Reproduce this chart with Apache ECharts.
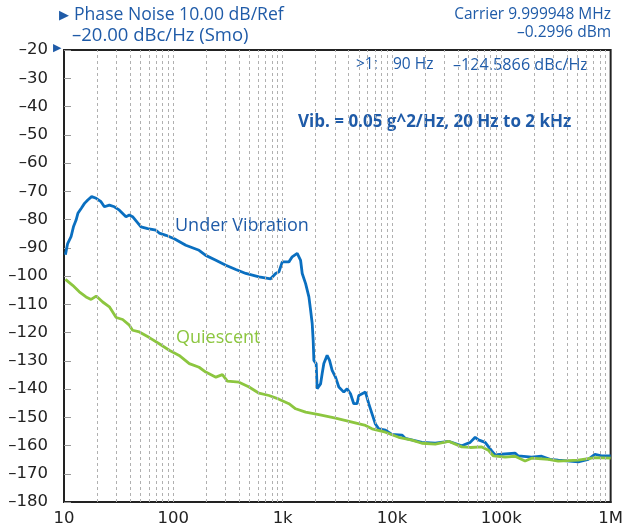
<!DOCTYPE html>
<html>
<head>
<meta charset="utf-8">
<script src="https://cdn.jsdelivr.net/npm/echarts@6/dist/echarts.min.js"></script>
<style>html,body{margin:0;padding:0;background:#fff}#c{width:626px;height:529px}</style>
</head>
<body>
<div id="c"></div>
<script>
// Under Vibration (Hz, dBc/Hz)
const vibFreq = [10.3,10.8,11.6,12.2,12.9,13.4,14.4,15.4,16.5,17.9,19.7,21.8,23.4,26.0,28.9,32.1,36.9,39.6,42.4,50.6,58.2,69.4,74.3,85.6,102,130,172,198,245,302,373,460,608,777,863,925,992,1141,1223,1359,1460,1510,1622,1738,1801,1863,1902,1930,2026,2069,2222,2297,2381,2552,2685,2836,3045,3264,3625,3886,4173,4473,4794,4970,5720,6130,6570,7055,7560,8710,10000,12340,13260,18780,24890,32910,43530,51930,57670,61810,71150,81740,87790,100800,133600,143200,189400,233700,278800,331900,505100,623300,717600,824500,1000000];
const vibDb = [-92.5,-88.5,-86.1,-82.6,-80.2,-77.8,-76.0,-74.3,-73.1,-71.9,-72.5,-73.7,-75.5,-74.9,-75.5,-76.7,-79.0,-78.4,-79.0,-82.6,-83.2,-83.8,-84.8,-85.6,-86.8,-89.1,-90.9,-92.7,-94.4,-96.2,-97.7,-99.1,-100.3,-101.0,-99.1,-98.5,-95.0,-95.0,-93.2,-92.0,-94.5,-99.1,-102.7,-107.4,-112.1,-116.8,-122.8,-129.9,-131.0,-139.9,-138.2,-134.6,-131.0,-128.1,-129.9,-133.4,-135.8,-139.3,-141.1,-139.9,-141.7,-145.2,-145.2,-142.3,-141.1,-145.2,-148.8,-152.4,-154.1,-154.6,-156.1,-156.3,-157.5,-158.9,-159.2,-158.5,-160.1,-158.9,-157.1,-158.0,-158.9,-161.9,-163.3,-163.1,-162.7,-163.7,-164.1,-163.8,-164.9,-165.2,-165.8,-164.9,-163.1,-163.7,-163.7];
// Quiescent
const quietFreq = [10.3,12.0,13.8,15.9,17.7,19.7,22.6,26.0,30.0,34.4,39.6,42.4,48.9,60.3,74.3,91.8,113,140,172,198,245,281,312,399,493,608,750,925,1141,1314,1622,2144,3045,4315,5720,6570,8710,11510,15220,18780,24890,32910,43530,51930,66250,76250,84720,108300,133600,164900,189400,269000,331900,505100,717600,1000000];
const quietDb = [-101.2,-103.3,-105.6,-107.4,-108.3,-107.1,-109.2,-110.9,-114.7,-115.4,-117.4,-119.2,-119.8,-121.8,-124.0,-126.3,-128.1,-131.0,-132.3,-134.0,-135.8,-134.9,-137.2,-137.6,-139.3,-141.5,-142.3,-143.6,-145.2,-147.0,-148.2,-149.1,-150.3,-151.7,-152.9,-154.1,-155.3,-157.1,-158.1,-159.2,-159.5,-158.5,-160.5,-160.7,-160.5,-161.7,-163.7,-164.1,-163.8,-165.5,-164.5,-164.9,-165.5,-165.2,-164.3,-164.5];

const xTickValues = [10,100,1000,10000,100000,1000000];
const xTickLabels = ['10','100','1k','10k','100k','1M'];
const yMin = -180, yMax = -20, yStep = 10;
const gridDecades = [10,100,1000,10000,100000];
const gridMultipliers = [1,2,3,4,5,6,7,8,9];

const FONT = 'Open Sans';
const AXFONT = 'DejaVu Sans';
const BLUE_TXT = '#1f5ba8';

const gridLines = [];
gridDecades.forEach(d => gridMultipliers.forEach(m => {
  const f = d * m;
  if (f > 10 && f < 1000000) gridLines.push({xAxis: f});
}));

const chart = echarts.init(document.getElementById('c'), null, {renderer: 'canvas'});
chart.setOption({
  animation: false,
  backgroundColor: '#fff',
  grid: {left: 64, right: 13, top: 50, bottom: 27, show: true, borderColor: '#222', borderWidth: 2, backgroundColor: 'transparent'},
  xAxis: {
    type: 'log', logBase: 10, min: 10, max: 1000000,
    axisLine: {show: true, lineStyle: {color: '#222', width: 2}},
    axisTick: {show: false},
    splitLine: {show: false},
    axisLabel: {
      fontFamily: AXFONT, fontSize: 16.5, color: '#222', margin: 8,
      formatter: v => { const i = xTickValues.findIndex(t => Math.abs(t - v) / t < 1e-6); return i >= 0 ? xTickLabels[i] : ''; }
    }
  },
  yAxis: {
    type: 'value', min: yMin, max: yMax, interval: yStep,
    axisLine: {show: true, lineStyle: {color: '#222', width: 2}},
    axisTick: {show: true, inside: true, length: 7, lineStyle: {color: '#999', width: 1}},
    splitLine: {show: false},
    axisLabel: {
      fontFamily: AXFONT, fontSize: 16.5, color: '#222', margin: 16,
      formatter: v => (v < 0 ? '\u2013' : '') + Math.abs(v)
    }
  },
  series: [
    {
      type: 'line', data: [], z: 1, silent: true,
      markLine: {
        silent: true, symbol: ['none', 'none'], label: {show: false},
        lineStyle: {color: '#b0b0b0', type: [3, 3], width: 1},
        animation: false,
        data: gridLines
      }
    },
    {
      name: 'Under Vibration', type: 'line', z: 3,
      data: vibFreq.map((f, i) => [f, vibDb[i]]),
      showSymbol: false, smooth: false,
      lineStyle: {color: '#0a6fc0', width: 2.8}
    },
    {
      name: 'Quiescent', type: 'line', z: 4,
      data: quietFreq.map((f, i) => [f, quietDb[i]]),
      showSymbol: false, smooth: false,
      lineStyle: {color: '#8cc63f', width: 2.8}
    }
  ],
  graphic: [
    {type: 'text', left: 59, top: 9, style: {text: '\u25B6', fontSize: 13, fill: BLUE_TXT, fontFamily: 'DejaVu Sans'}},
    {type: 'text', left: 74, top: 6, style: {text: 'Phase Noise 10.00 dB/Ref', fontSize: 17.6, fill: BLUE_TXT, fontFamily: FONT}},
    {type: 'text', left: 72, top: 26, style: {text: '\u201320.00 dBc/Hz (Smo)', fontSize: 18.5, fill: BLUE_TXT, fontFamily: FONT}},
    {type: 'text', right: 15, top: 7, style: {text: 'Carrier 9.999948 MHz', fontSize: 15.5, fill: BLUE_TXT, fontFamily: FONT, align: 'right'}},
    {type: 'text', right: 15, top: 25, style: {text: '\u20130.2996 dBm', fontSize: 15.5, fill: BLUE_TXT, fontFamily: FONT, align: 'right'}},
    {type: 'text', left: 356, top: 57, style: {text: '>1:', fontSize: 15.5, fill: BLUE_TXT, fontFamily: FONT}},
    {type: 'text', left: 393, top: 57, style: {text: '90 Hz', fontSize: 15.5, fill: BLUE_TXT, fontFamily: FONT}},
    {type: 'text', left: 453, top: 57, style: {text: '\u2013124.5866 dBc/Hz', fontSize: 16.2, fill: BLUE_TXT, fontFamily: FONT}},
    {type: 'text', left: 298, top: 114, style: {text: 'Vib. = 0.05 g^2/Hz, 20 Hz to 2 kHz', fontSize: 17, fontWeight: 'bold', fill: BLUE_TXT, fontFamily: FONT}},
    {type: 'text', left: 175, top: 217, style: {text: 'Under Vibration', fontSize: 18, fill: BLUE_TXT, fontFamily: FONT}},
    {type: 'text', left: 176, top: 329, style: {text: 'Quiescent', fontSize: 18, fill: '#8cc63f', fontFamily: FONT}},
    {type: 'text', left: 53, top: 43, style: {text: '\u25B6', fontSize: 11, fill: BLUE_TXT, fontFamily: 'DejaVu Sans'}}
  ]
});
</script>
</body>
</html>
